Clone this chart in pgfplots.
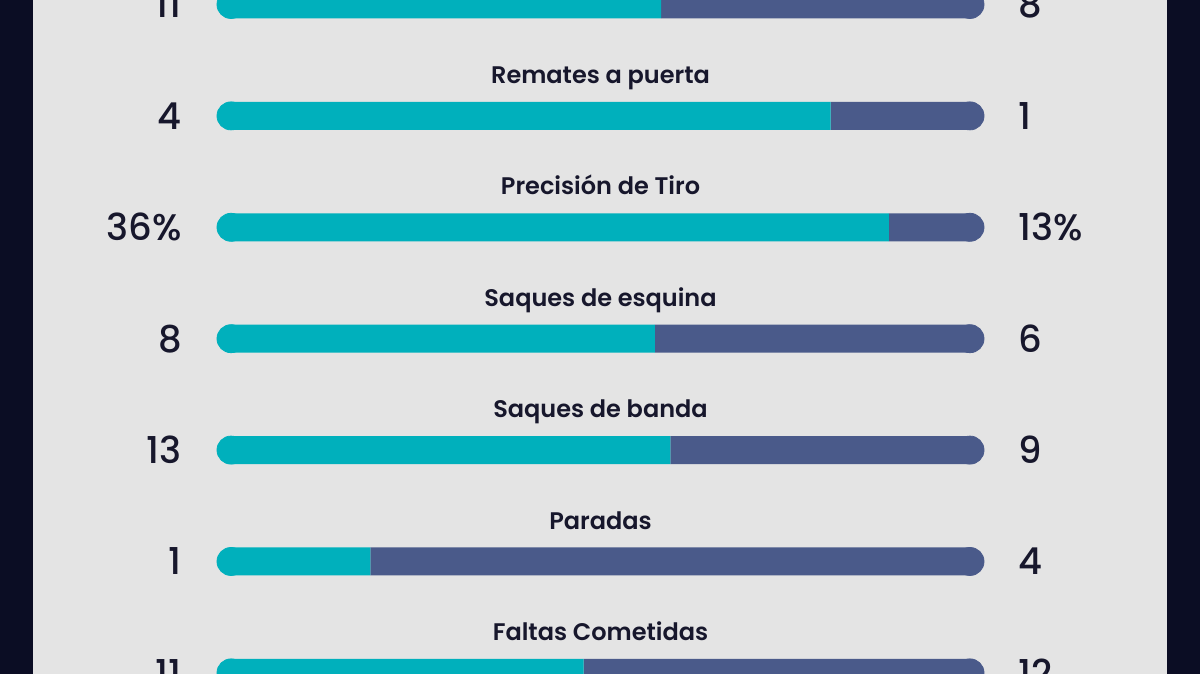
\documentclass[border=0pt]{standalone}
\usepackage{fontspec}
\setmainfont{Poppins}[UprightFont=* SemiBold, BoldFont=* Bold]
\newfontfamily\numfont{Poppins}[UprightFont=* Medium]
\usepackage{pgfplots}
\pgfplotsset{compat=1.18}
\usepackage{pgfplotstable}
\definecolor{tealc}{HTML}{00B0BC}
\definecolor{slatec}{HTML}{4A5A8A}
\definecolor{panelc}{HTML}{E4E4E4}
\definecolor{darkbg}{HTML}{0B0D24}
\definecolor{txt}{HTML}{17172C}

\pgfplotstableread{
row share left right title
0 57.9 11 8 {}
1 80.0 4 1 {Remates a puerta}
2 87.6 {36\%} {13\%} {Precisión de Tiro}
3 57.1 8 6 {Saques de esquina}
4 59.1 13 9 {Saques de banda}
5 20.0 1 4 {Paradas}
6 47.8 11 12 {Faltas Cometidas}
}\stats

\pgfplotsset{base/.style={at={(0,0)}, anchor=south west, scale only axis,
  width=600pt, height=337pt, xmin=-28.29, xmax=128.16,
  ymin=-0.0404, ymax=6.010, y dir=reverse, hide axis}}

\begin{document}
\begin{tikzpicture}
\fill[darkbg] (0,0) rectangle (600pt,337pt);
\fill[panelc] (16.5pt,0) rectangle (583.5pt,337pt);
\begin{axis}[base, xbar stacked, bar width=14pt]
\addplot[draw=none, fill=none] table[x expr=1.825, y=row] {\stats};
\addplot[draw=none, fill=tealc] table[x expr=\thisrow{share}-1.825, y=row] {\stats};
\addplot[draw=none, fill=slatec] table[x expr=98.175-\thisrow{share}, y=row] {\stats};
\end{axis}
\begin{axis}[base]
\addplot[only marks, mark=*, mark size=7pt, color=tealc, mark options={draw=none, fill=tealc}] table[x expr=1.825, y=row] {\stats};
\addplot[only marks, mark=*, mark size=7pt, color=slatec, mark options={draw=none, fill=slatec}] table[x expr=98.175, y=row] {\stats};
\addplot[draw=none, mark=none, nodes near coords, point meta=explicit symbolic,
  nodes near coords style={anchor=east, inner sep=0pt, font=\numfont\fontsize{18.5}{20}\selectfont, text=txt}]
  table[x expr=-4.56, y=row, meta=left] {\stats};
\addplot[draw=none, mark=none, nodes near coords, point meta=explicit symbolic,
  nodes near coords style={anchor=west, inner sep=0pt, font=\numfont\fontsize{18.5}{20}\selectfont, text=txt}]
  table[x expr=104.43, y=row, meta=right] {\stats};
\addplot[draw=none, mark=none, nodes near coords, point meta=explicit symbolic,
  nodes near coords style={anchor=base, inner sep=0pt, font=\fontsize{12}{14}\selectfont, text=txt}]
  table[x expr=50, y expr=\thisrow{row}-0.29, meta=title] {\stats};
\end{axis}
\pgfresetboundingbox
\path (0,0) rectangle (600pt,337pt);
\end{tikzpicture}
\end{document}
